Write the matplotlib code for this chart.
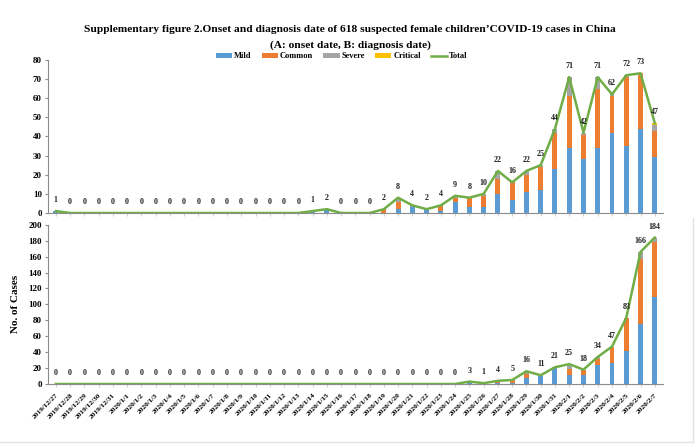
"""
Onset and diagnosis date of 618 suspected female children COVID-19 cases
Two stacked bar panels with a total line on top
"""
import matplotlib
matplotlib.use("Agg")
import matplotlib.pyplot as plt
from matplotlib.lines import Line2D
import numpy as np

DATES = ["2019/12/27", "2019/12/28", "2019/12/29", "2019/12/30", "2019/12/31"] + \
        ["2020/1/" + str(d) for d in range(1, 32)] + \
        ["2020/2/" + str(d) for d in range(1, 8)]

# A: onset date (43 days)
ONSET_MILD = [1] + [0] * 17 + [1, 2, 0, 0, 0, 0, 2, 3, 2, 1, 6, 3, 3, 10, 7, 11, 12,
                               23, 34, 28, 34, 42, 35, 44, 29]
ONSET_COMMON = [0] * 18 + [0, 0, 0, 0, 0, 2, 4, 0, 0, 3, 2, 5, 6, 8, 9, 9, 12,
                           19, 27, 13, 31, 19, 36, 29, 14]
ONSET_SEVERE = [0] * 18 + [0, 0, 0, 0, 0, 0, 2, 1, 0, 0, 1, 0, 1, 4, 0, 2, 1,
                           2, 10, 1, 6, 1, 1, 0, 3]
ONSET_CRITICAL = [0] * 42 + [1]
ONSET_TOTAL = [1] + [0] * 17 + [1, 2, 0, 0, 0, 2, 8, 4, 2, 4, 9, 8, 10, 22, 16, 22, 25,
                                44, 71, 42, 71, 62, 72, 73, 47]

# B: diagnosis date
DIAG_MILD = [0] * 29 + [2, 1, 1, 1, 8, 10, 20, 11, 11, 24, 26, 41, 75, 109]
DIAG_COMMON = [0] * 29 + [1, 0, 3, 4, 5, 0, 0, 8, 6, 7, 21, 42, 82, 69]
DIAG_SEVERE = [0] * 29 + [0, 0, 0, 0, 3, 1, 1, 6, 1, 3, 0, 0, 9, 6]
DIAG_CRITICAL = [0] * 43
DIAG_TOTAL = [0] * 29 + [3, 1, 4, 5, 16, 11, 21, 25, 18, 34, 47, 83, 166, 184]

SERIES = ["Mild", "Common", "Severe", "Critical"]
COLORS = ["#5B9BD5", "#ED7D31", "#A5A5A5", "#FFC000"]
LINE_COLOR = "#70AD47"
SERIF = "Liberation Serif"


def draw_panel(ax, parts, total, ymax, ystep):
    x = np.arange(len(DATES))
    bottom = np.zeros(len(DATES))
    for vals, name, col in zip(parts, SERIES, COLORS):
        ax.bar(x, vals, width=0.35, bottom=bottom, color=col, label=name, zorder=2)
        bottom += np.array(vals)
    ax.plot(x, total, color=LINE_COLOR, lw=1.8, label="Total", zorder=3)
    for xi, t in zip(x, total):
        ax.annotate(str(t), (xi, t), xytext=(0, 5), textcoords="offset points",
                    ha="center", va="bottom", fontsize=5.8, fontweight="bold",
                    family=SERIF, color="#222222")
    ax.set_xlim(-0.55, len(DATES) - 0.45)
    ax.set_ylim(0, ymax)
    ax.set_yticks(np.arange(0, ymax + 1, ystep))
    for s in ["top", "right"]:
        ax.spines[s].set_visible(False)
    for s in ["left", "bottom"]:
        ax.spines[s].set_color("#8c8c8c")
        ax.spines[s].set_linewidth(0.8)
    ax.tick_params(axis="y", labelsize=6.5, length=2.5, color="#8c8c8c", pad=2)
    ax.tick_params(axis="x", length=2.5, color="#d0d0d0")
    for lab in ax.get_yticklabels():
        lab.set_fontweight("bold")
        lab.set_family(SERIF)
    ax.set_xticks(x)


fig = plt.figure(figsize=(7, 4.47), dpi=100)
ax1 = fig.add_axes([0.0686, 0.5235, 0.878, 0.3425])
ax2 = fig.add_axes([0.0686, 0.141, 0.878, 0.356])

draw_panel(ax1, [ONSET_MILD, ONSET_COMMON, ONSET_SEVERE, ONSET_CRITICAL], ONSET_TOTAL, 80, 10)
draw_panel(ax2, [DIAG_MILD, DIAG_COMMON, DIAG_SEVERE, DIAG_CRITICAL], DIAG_TOTAL, 200, 20)

ax1.set_xticklabels([])
ax2.set_xticklabels(DATES, rotation=45, ha="right", rotation_mode="anchor",
                    fontsize=5.3, fontweight="bold", family=SERIF)
ax2.set_ylabel("No. of Cases", fontsize=8, fontweight="bold", family=SERIF, labelpad=6)

fig.text(0.5, 0.933, "Supplementary figure 2.Onset and diagnosis date of 618 suspected female "
         "children\u2019COVID-19 cases in China", ha="center", va="center",
         fontsize=8.2, fontweight="bold", family=SERIF)
fig.text(0.5, 0.899, "(A: onset date, B: diagnosis date)", ha="center", va="center",
         fontsize=8.2, fontweight="bold", family=SERIF)

# legend order: the four bar series, then the total line
handles, labels = ax1.get_legend_handles_labels()
order = [labels.index(n) for n in SERIES + ["Total"]]
leg = fig.legend([handles[i] for i in order], [labels[i] for i in order],
                 loc="center", bbox_to_anchor=(0.488, 0.874), ncol=5,
                 frameon=False, handlelength=2.0, handleheight=0.6, columnspacing=1.2,
                 handletextpad=0.2, prop={"family": SERIF, "weight": "bold", "size": 6})

# light frame around the lower part, as in the source slide
fig.add_artist(Line2D([0.99, 0.99], [0.012, 0.512], transform=fig.transFigure,
                      color="#e3e3e3", lw=1))
fig.add_artist(Line2D([0.0, 0.99], [0.012, 0.012], transform=fig.transFigure,
                      color="#e3e3e3", lw=1))

fig.savefig("out.png", dpi=100)
